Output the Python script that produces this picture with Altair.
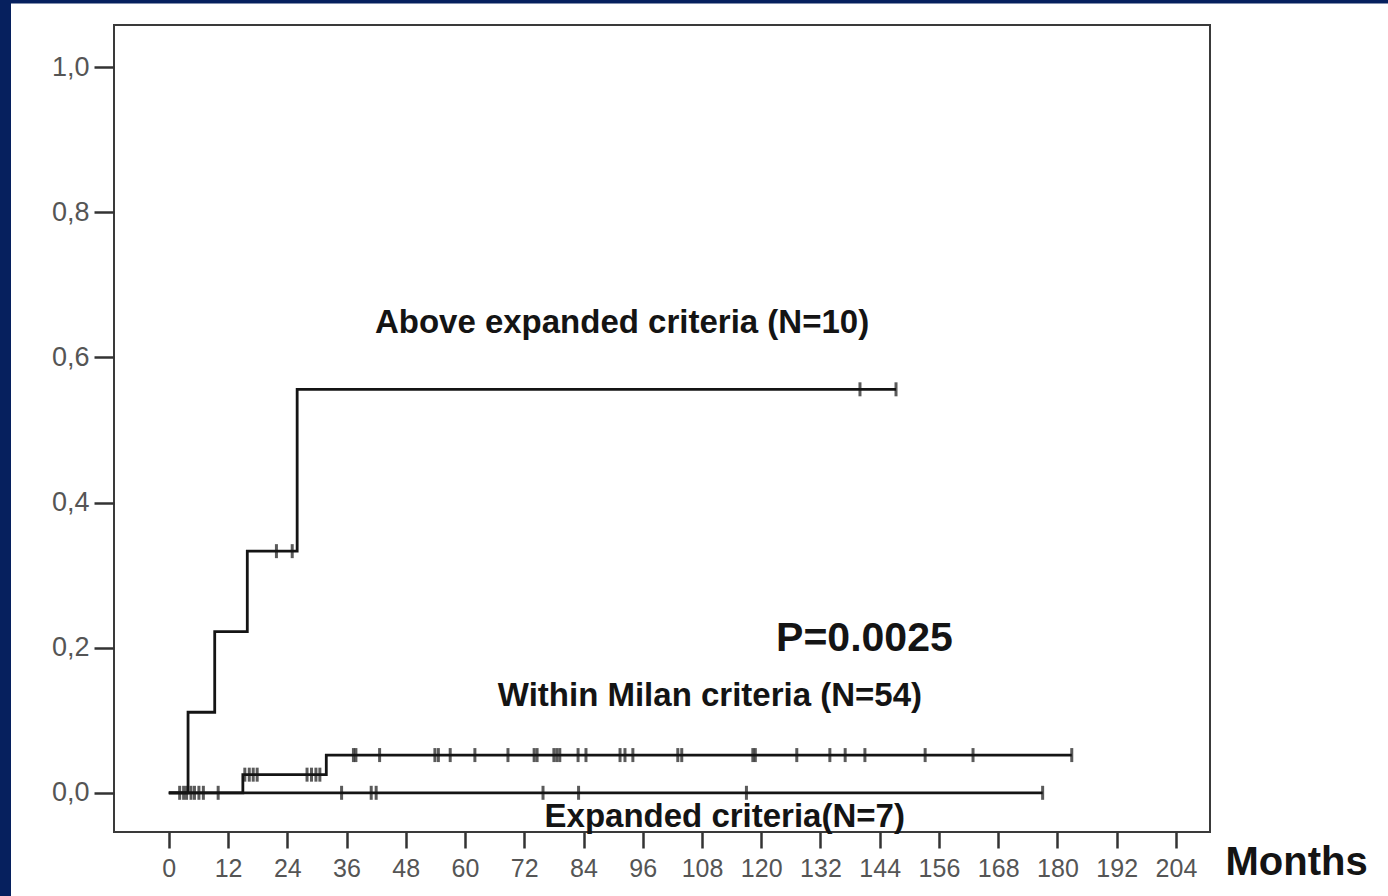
import altair as alt
import pandas as pd

# Cumulative incidence curves (step-after): event times in months and levels
above_times = [0, 3.9, 9.3, 15.9, 26.0, 147.3]
above_levels = [0.0, 0.111, 0.222, 0.333, 0.556, 0.556]
above_censor_times = [3.0, 3.6, 21.8, 25.0, 140.0, 147.3]
above_censor_levels = [0.0, 0.0, 0.333, 0.333, 0.556, 0.556]

milan_times = [0, 15.0, 31.9, 182.9]
milan_levels = [0.0, 0.025, 0.052, 0.052]
milan_censor_times = [2.2, 4.5, 5.2, 6.1, 7.0, 10.0,
                      15.4, 16.3, 17.1, 17.9, 28.0, 28.9, 29.8, 30.6,
                      37.4, 37.9, 42.7, 53.9, 54.6, 57.0, 62.0, 68.7, 74.0,
                      74.6, 78.0, 78.6, 79.2, 82.9, 84.5, 91.4, 92.4, 94.0,
                      103.1, 103.9, 118.3, 118.8, 127.2, 133.9, 137.0, 141.0,
                      153.2, 162.9, 182.9]
milan_censor_levels = [0.0] * 6 + [0.025] * 8 + [0.052] * 29

expanded_times = [0, 177.0]
expanded_levels = [0.0, 0.0]
expanded_censor_times = [35.0, 41.0, 42.0, 75.8, 83.0, 117.0, 177.0]
expanded_censor_levels = [0.0] * 7

x_ticks = list(range(0, 205, 12))
y_ticks = [0.0, 0.2, 0.4, 0.6, 0.8, 1.0]

FONT = "Liberation Sans"
INK = "#141414"

curves = pd.concat([
    pd.DataFrame({"group": "Above", "t": above_times, "p": above_levels}),
    pd.DataFrame({"group": "Milan", "t": milan_times, "p": milan_levels}),
    pd.DataFrame({"group": "Expanded", "t": expanded_times, "p": expanded_levels}),
])
censors = pd.concat([
    pd.DataFrame({"group": "Above", "t": above_censor_times, "p": above_censor_levels}),
    pd.DataFrame({"group": "Milan", "t": milan_censor_times, "p": milan_censor_levels}),
    pd.DataFrame({"group": "Expanded", "t": expanded_censor_times, "p": expanded_censor_levels}),
])

labels = pd.DataFrame({
    "text": ["Above expanded criteria (N=10)", "P=0.0025",
             "Within Milan criteria (N=54)", "Expanded criteria(N=7)"],
    "t": [91.8, 140.9, 109.6, 112.6],
    "p": [0.648, 0.2115, 0.134, -0.034],
    "size": [33, 41, 33, 33],
})

x_scale = alt.Scale(domain=[-11.1, 210.9], nice=False, zero=False)
y_scale = alt.Scale(domain=[-0.054, 1.058], nice=False, zero=False)

x_axis = alt.Axis(
    values=x_ticks, grid=False, domain=False,
    tickSize=16, tickWidth=2.5, tickColor="#333333",
    labelFont=FONT, labelFontSize=25, labelColor="#555555", labelPadding=8,
    labelFlush=False, labelOverlap=False,
    title="Months", titleFont=FONT, titleFontSize=40, titleFontWeight="bold",
    titleColor=INK, titleX=1111, titleY=30, titleAlign="left",
    titleBaseline="middle", titleAnchor="start",
)
y_axis = alt.Axis(
    values=y_ticks, grid=False, domain=False,
    tickSize=20, tickWidth=2.5, tickColor="#333333",
    labelFont=FONT, labelFontSize=27, labelColor="#555555", labelPadding=5,
    labelExpr="replace(format(datum.value, '.1f'), '.', ',')",
    title=None,
)

lines = alt.Chart(curves).mark_line(
    interpolate="step-after", color=INK, strokeWidth=2.8
).encode(
    x=alt.X("t:Q", scale=x_scale, axis=x_axis),
    y=alt.Y("p:Q", scale=y_scale, axis=y_axis),
    detail="group:N",
)

marks = alt.Chart(censors).mark_tick(
    orient="vertical", color=INK, size=14, thickness=3
).encode(
    x=alt.X("t:Q", scale=x_scale),
    y=alt.Y("p:Q", scale=y_scale),
)

texts = alt.Chart(labels).mark_text(
    font=FONT, fontWeight="bold", color=INK, baseline="middle", align="center"
).encode(
    x=alt.X("t:Q", scale=x_scale),
    y=alt.Y("p:Q", scale=y_scale),
    text="text:N",
    size=alt.Size("size:Q", scale=None, legend=None),
)

# Navy frame strips along the left and top edges of the page
frame = pd.DataFrame({"k": [0]})
left_strip = alt.Chart(frame).mark_rect(color="#06205e").encode(
    x=alt.value(-114), x2=alt.value(-103), y=alt.value(-25), y2=alt.value(871)
)
top_strip = alt.Chart(frame).mark_rect(color="#06205e").encode(
    x=alt.value(-114), x2=alt.value(1274), y=alt.value(-25), y2=alt.value(-21.5)
)

chart = alt.layer(lines, marks, texts, left_strip, top_strip).properties(
    width=1096,
    height=807,
    autosize=alt.AutoSizeParams(type="none"),
    padding={"left": 114, "top": 25, "right": 178, "bottom": 64},
    background="white",
).configure_view(stroke="#3a3a3a", strokeWidth=2)

chart.save("out.html", embed_options={"renderer": "svg", "actions": False})
